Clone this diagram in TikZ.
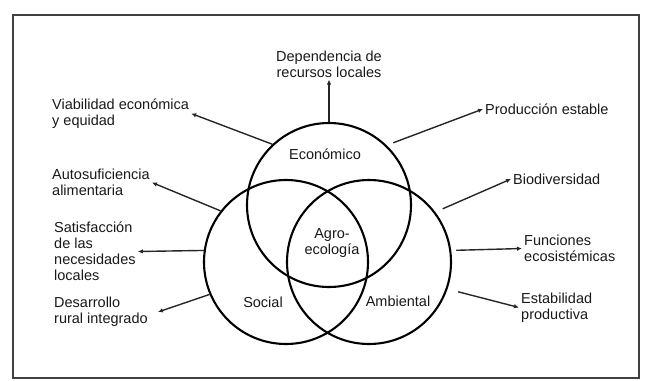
\documentclass[tikz,border=0pt]{standalone}
\usepackage{fontspec}
\setmainfont{Liberation Sans}
\usepackage{tikz}
\usetikzlibrary{arrows.meta}

\begin{document}
\begin{tikzpicture}[x=1pt,y=-1pt,
    ring/.style={circle,draw,line width=2.1pt,minimum size=164pt,inner sep=0pt},
    lbl/.style={align=left,inner sep=2pt,font=\fontsize{14.5}{16}\selectfont,text=black!90},
    conn/.style={-{Latex[length=5pt,width=4.5pt]},line width=1.4pt,black!85}]
  \useasboundingbox (0,0) rectangle (650,380);
  \draw[line width=1.6pt,black!75] (13,15) rectangle (639,378);
  % the three circles
  \node[ring] (eco) at (329,205) {};
  \node[ring] (soc) at (286,262) {};
  \node[ring] (amb) at (369,262) {};
  \node[lbl] (econame) at (325,154) {Económico};
  \node[lbl,align=center] (agro) at (332,243) {Agro-\\ecología};
  \node[lbl] (socname) at (263,302) {Social};
  \node[lbl] (ambname) at (398,301) {Ambiental};
  % labels round the circles
  \node[lbl,align=center] (dep) at (329,64) {Dependencia de\\recursos locales};
  \node[lbl,anchor=west] (via) at (50,113.5) {Viabilidad económica\\y equidad};
  \node[lbl,anchor=west] (auto) at (50,182.5) {Autosuficiencia\\alimentaria};
  \node[lbl,anchor=west] (sat) at (52,251.5) {Satisfacción\\de las\\necesidades\\locales};
  \node[lbl,anchor=west] (des) at (52,312) {Desarrollo\\rural integrado};
  \node[lbl,anchor=west] (prod) at (483,109) {Producción estable};
  \node[lbl,anchor=west] (bio) at (511,179) {Biodiversidad};
  \node[lbl,anchor=west] (fun) at (522,248.5) {Funciones\\ecosistémicas};
  \node[lbl,anchor=west] (est) at (519,307.5) {Estabilidad\\productiva};
  % connectors
  \draw[conn] (eco.90) -- (dep.south);
  \draw[conn] (eco.133) -- (via.east);
  \draw[conn] (soc.142) -- (auto.east);
  \draw[conn] (soc.172) -- (sat.east);
  \draw[conn] (soc.203) -- ([xshift=8pt]des.east);
  \draw[conn,shorten <=7pt] (eco.46) -- (prod.west);
  \draw[conn,shorten <=8pt] (amb.37) -- (bio.west);
  \draw[conn,shorten <=5pt] (amb.8) -- (fun.west);
  \draw[conn,shorten <=11pt] (amb.341) -- (est.west);
\end{tikzpicture}
\end{document}
